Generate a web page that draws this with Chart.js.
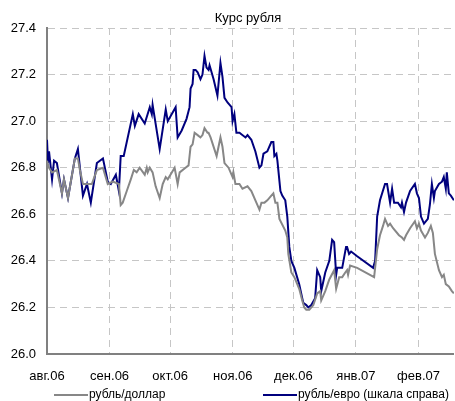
<!DOCTYPE html>
<html>
<head>
<meta charset="utf-8">
<script src="https://cdn.jsdelivr.net/npm/chart.js@4/dist/chart.umd.min.js"></script>
<style>
  body { margin: 0; background: #fff; }
</style>
</head>
<body>
<canvas id="chart" width="455" height="401"></canvas>
<script>
// ================= Data =================
const chartTitle = "Курс рубля";
const monthLabels = ["авг.06", "сен.06", "окт.06", "ноя.06", "дек.06", "янв.07", "фев.07"];
const monthDays = [0, 31, 61, 92, 122, 153, 184]; // days since 1 Aug 2006
const seriesNames = ["рубль/доллар", "рубль/евро (шкала справа)"];

// рубль/доллар, left scale
const usdDays = [0, 1, 2.5, 4.9, 7.4, 8.4, 10.4, 13.8, 15.3, 16.3, 17.8, 20.2, 22.2, 24.7, 27.7,
  30.1, 32.6, 35.6, 36.5, 37.5, 39.5, 41.5, 43, 44.4, 45.9, 48.4, 49.4, 49.9, 50.9, 52.3,
  53.8, 55.8, 57.3, 58.8, 59.8, 63.2, 64.7, 65.7, 68.6, 70.1, 71.1, 72.1, 73.1, 74.6, 76,
  77, 78, 79.5, 80, 81, 84, 85.9, 86.9, 87.9, 89.9, 91.9, 92.3, 93.3, 95.3, 96.8,
  99.3, 101.2, 103.2, 105.2, 106.2, 107.7, 109.1, 111.1, 112.1, 113.1, 114.1, 115.1, 118, 119, 119.5,
  121, 122.5, 124.9, 126.4, 127.4, 128.4, 129.9, 131.9, 133.8, 135.3, 135.8, 137.8, 139.8, 142.2, 143.2,
  144.7, 146.2, 147.7, 148.6, 149.1, 150.1, 153.6, 162, 163.5, 164.9, 166.4, 167.4, 168.9, 169.9, 171.4,
  174.3, 175.8, 176.8, 177.8, 179.8, 182.2, 183.2, 184.2, 185.2, 187.2, 188.6, 190.1, 191.1, 192.1, 194.1,
  195.6, 196.5, 197.5, 199, 200.5, 201.5];
const usdRate = [26.83, 26.80, 26.78, 26.79, 26.69, 26.75, 26.67, 26.84, 26.84, 26.79, 26.73, 26.73, 26.73, 26.79, 26.80,
  26.73, 26.74, 26.73, 26.64, 26.65, 26.70, 26.75, 26.79, 26.78, 26.80, 26.77, 26.80, 26.78, 26.80, 26.78,
  26.72, 26.67, 26.73, 26.76, 26.75, 26.80, 26.73, 26.78, 26.80, 26.81, 26.89, 26.90, 26.95, 26.94, 26.93,
  26.94, 26.97, 26.95, 26.95, 26.93, 26.85, 26.93, 26.89, 26.82, 26.80, 26.76, 26.78, 26.73, 26.73, 26.71,
  26.72, 26.70, 26.66, 26.62, 26.65, 26.65, 26.66, 26.68, 26.69, 26.65, 26.65, 26.58, 26.53, 26.50, 26.43,
  26.35, 26.33, 26.28, 26.23, 26.20, 26.19, 26.19, 26.21, 26.26, 26.27, 26.23, 26.27, 26.32, 26.36, 26.28,
  26.33, 26.33, 26.35, 26.36, 26.34, 26.38, 26.37, 26.33, 26.45, 26.51, 26.55, 26.58, 26.55, 26.56, 26.54,
  26.51, 26.50, 26.49, 26.51, 26.54, 26.57, 26.54, 26.56, 26.53, 26.50, 26.52, 26.55, 26.52, 26.43, 26.36,
  26.33, 26.34, 26.30, 26.29, 26.27, 26.26];

// рубль/евро, right scale (inverted)
const eurDays = [0, 0.5, 1, 2.5, 3.5, 4.9, 7.4, 8.4, 10.4, 13.8, 15.3, 17.8, 19.8, 21.7, 24.7,
  27.7, 30.1, 31.6, 34.1, 35.6, 36.5, 38, 42.5, 43.5, 45.4, 48.4, 50.9, 51.9, 52.3, 55.8,
  58.8, 59.8, 63.7, 64.7, 66.7, 69.1, 70.6, 71.1, 72.1, 72.6, 73.6, 74.6, 76, 77, 78,
  79, 80, 80.5, 82.5, 84.4, 85.9, 86.9, 87.9, 89.4, 91.4, 91.9, 92.8, 93.8, 95.3, 98.3,
  99.3, 101.2, 103.2, 105.2, 106.2, 107.2, 109.1, 111.1, 112.1, 112.6, 113.6, 114.1, 115.6, 116.5, 118,
  119, 120, 121, 122.5, 124.9, 126.4, 126.9, 128.4, 129.4, 130.9, 132.8, 133.8, 135.3, 135.8, 137.8,
  139.8, 141.2, 142.2, 143.2, 143.7, 146.2, 148.1, 148.6, 149.6, 150.6, 153.6, 161.5, 162.5, 163.5, 164.9,
  167.4, 168.4, 169.9, 170.9, 171.9, 173.8, 175.3, 175.8, 176.8, 177.8, 179.8, 182.2, 183.2, 184.2, 185.2,
  186.7, 188.6, 189.6, 190.6, 191.6, 192.1, 194.1, 195.6, 196.5, 197.5, 198, 199, 200, 201.5];
const eurRate = [34.28, 34.38, 34.33, 34.45, 34.37, 34.38, 34.51, 34.45, 34.53, 34.36, 34.32, 34.52, 34.47, 34.55, 34.38,
  34.36, 34.46, 34.47, 34.43, 34.50, 34.35, 34.35, 34.17, 34.22, 34.17, 34.21, 34.14, 34.17, 34.13, 34.32,
  34.15, 34.20, 34.14, 34.27, 34.24, 34.19, 34.14, 34.06, 34.04, 33.98, 33.98, 33.99, 34.02, 34.00, 33.92,
  33.97, 33.98, 33.96, 34.02, 34.09, 33.95, 34.01, 34.10, 34.12, 34.14, 34.20, 34.17, 34.25, 34.25, 34.27,
  34.26, 34.28, 34.33, 34.40, 34.39, 34.34, 34.33, 34.29, 34.29, 34.35, 34.34, 34.37, 34.50, 34.52, 34.54,
  34.61, 34.74, 34.80, 34.83, 34.90, 34.96, 34.98, 34.99, 35.00, 34.99, 34.96, 34.84, 34.87, 34.93, 34.85,
  34.80, 34.71, 34.72, 34.86, 34.83, 34.83, 34.74, 34.74, 34.77, 34.76, 34.78, 34.83, 34.80, 34.61, 34.54,
  34.47, 34.47, 34.55, 34.49, 34.55, 34.55, 34.57, 34.55, 34.59, 34.55, 34.50, 34.47, 34.51, 34.53, 34.61,
  34.64, 34.62, 34.56, 34.47, 34.53, 34.50, 34.47, 34.46, 34.44, 34.49, 34.42, 34.51, 34.52, 34.54];

// ================= Styles =================
const FONT = '"Liberation Sans", Arial, sans-serif';
const colors = ["#878787", "#00007e"];
const gridColor = "#c6c6c6";

// title + legend drawn by hand, the reference places them off-centre
const labelsPlugin = {
  id: "labels",
  afterDraw(chart) {
    const ctx = chart.ctx;
    ctx.save();
    ctx.fillStyle = "#000";
    ctx.textBaseline = "middle";
    ctx.textAlign = "center";
    ctx.font = "13px " + FONT;
    ctx.fillText(chartTitle, 248, 18);

    ctx.textAlign = "left";
    ctx.font = "12px " + FONT;
    const legendX = [54, 263];
    chart.data.datasets.forEach((ds, i) => {
      const x = legendX[i];
      ctx.strokeStyle = ds.borderColor;
      ctx.lineWidth = 2;
      ctx.beginPath();
      ctx.moveTo(x, 395);
      ctx.lineTo(x + 34, 395);
      ctx.stroke();
      ctx.fillText(ds.label, x + 35, 395);
    });
    ctx.restore();
  }
};

const toPoints = (xs, ys) => xs.map((d, i) => ({ x: d, y: ys[i] }));

new Chart(document.getElementById("chart"), {
  type: "line",
  data: {
    datasets: [{
      label: seriesNames[0],
      data: toPoints(usdDays, usdRate),
      borderColor: colors[0],
      borderWidth: 2,
      pointRadius: 0,
      tension: 0,
      yAxisID: "y"
    }, {
      label: seriesNames[1],
      data: toPoints(eurDays, eurRate),
      borderColor: colors[1],
      borderWidth: 2,
      pointRadius: 0,
      tension: 0,
      yAxisID: "y1"
    }]
  },
  options: {
    responsive: false,
    animation: false,
    devicePixelRatio: 1,
    layout: { padding: { top: 28, right: 0, bottom: 0, left: 0 } },
    plugins: {
      legend: { display: false },
      title: { display: false },
      tooltip: { enabled: false }
    },
    scales: {
      x: {
        type: "linear",
        min: 0,
        max: 201.5,
        afterBuildTicks: (scale) => {
          scale.ticks = monthDays.map(v => ({ value: v }));
        },
        afterFit: (scale) => { scale.height = 47; },
        ticks: {
          autoSkip: false,
          maxRotation: 0,
          padding: 15,
          color: "#000",
          font: { family: FONT, size: 13 },
          callback: (v, i) => monthLabels[i]
        },
        grid: { color: gridColor, lineWidth: 1, drawTicks: false },
        border: { color: "#808080", width: 2, dash: [7, 5] }
      },
      y: {
        position: "left",
        min: 26.0,
        max: 27.4,
        afterFit: (scale) => { scale.width = 47; },
        ticks: {
          stepSize: 0.2,
          padding: 11,
          color: "#000",
          font: { family: FONT, size: 13 },
          callback: (v) => v.toFixed(1)
        },
        grid: { color: gridColor, lineWidth: 1, drawTicks: false },
        border: { color: "#808080", width: 2, dash: [7, 5] }
      },
      y1: {
        display: false,
        reverse: true,
        min: 33.8,
        max: 35.2
      }
    }
  },
  plugins: [labelsPlugin]
});
</script>
</body>
</html>
